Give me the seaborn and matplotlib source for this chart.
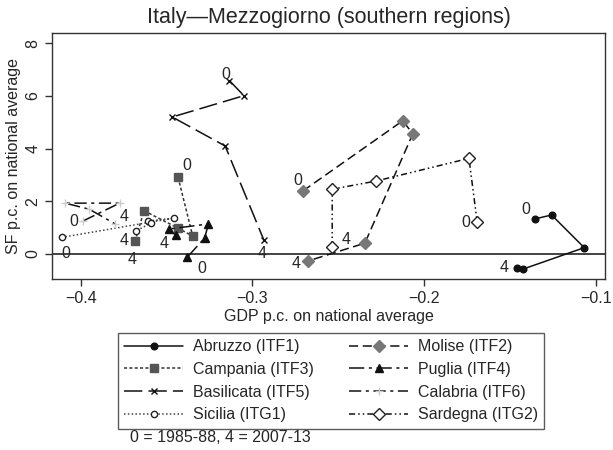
import matplotlib
matplotlib.use("Agg")
import matplotlib.pyplot as plt
import seaborn as sns
import pandas as pd

# GDP p.c. (x) and SF p.c. (y) on national average, periods 0..4
abruzzo_gdp = [-0.1357, -0.1259, -0.1069, -0.1428, -0.1463]
abruzzo_sf = [1.33, 1.48, 0.24, -0.58, -0.54]
molise_gdp = [-0.2707, -0.2125, -0.2067, -0.2346, -0.2679]
molise_sf = [2.39, 5.06, 4.56, 0.41, -0.27]
campania_gdp = [-0.3433, -0.3348, -0.3433, -0.3631, -0.3683]
campania_sf = [2.91, 0.68, 0.98, 1.64, 0.51]
puglia_gdp = [-0.3381, -0.3279, -0.3256, -0.3486, -0.3448]
puglia_sf = [-0.13, 0.60, 1.14, 0.95, 0.72]
basilicata_gdp = [-0.3134, -0.3050, -0.3467, -0.3159, -0.2934]
basilicata_sf = [6.58, 6.01, 5.20, 4.10, 0.53]
calabria_gdp = [-0.3984, -0.3773, -0.4090, -0.3950, -0.3802]
calabria_sf = [1.26, 1.93, 1.93, 1.70, 1.15]
sicilia_gdp = [-0.4111, -0.3458, -0.3606, -0.3592, -0.3679]
sicilia_sf = [0.63, 1.36, 1.25, 1.17, 0.87]
sardegna_gdp = [-0.1692, -0.1740, -0.2280, -0.2536, -0.2536]
sardegna_sf = [1.20, 3.63, 2.77, 2.46, 0.25]

sns.set_style("ticks")
plt.rcParams["font.family"] = ["Liberation Sans", "DejaVu Sans"]

fig = plt.figure(figsize=(6.13, 4.5), dpi=100)
ax = fig.add_axes([0.0848, 0.38, 0.9022, 0.5467])

# name, x, y, line style, line color, marker, marker face, marker edge, size, label offsets
regions = [
    ("Abruzzo (ITF1)", abruzzo_gdp, abruzzo_sf, "-", "#111111", "o", "#111111", "#111111", 4.8, (-9, 9), (-12, 1)),
    ("Campania (ITF3)", campania_gdp, campania_sf, (0, (2, 1.5)), "#333333", "s", "#555555", "#555555", 6.3, (9, 12), (-3, -19)),
    ("Basilicata (ITF5)", basilicata_gdp, basilicata_sf, (0, (12, 4)), "#111111", "x", "#111111", "#111111", 5, (-4, 6), (-2, -13)),
    ("Sicilia (ITG1)", sicilia_gdp, sicilia_sf, (0, (1, 1.5)), "#444444", "o", "white", "#222222", 4.5, (4, -16), (-12, -9)),
    ("Molise (ITF2)", molise_gdp, molise_sf, (0, (6, 3)), "#111111", "D", "#777777", "#777777", 6.3, (-5, 11), (-12, -2)),
    ("Puglia (ITF4)", puglia_gdp, puglia_sf, (0, (10, 3, 2, 3)), "#111111", "^", "#111111", "#111111", 6.3, (15, -11), (-11, -8)),
    ("Calabria (ITF6)", calabria_gdp, calabria_sf, (0, (8, 3, 2, 3)), "#111111", "+", "#cccccc", "#cccccc", 6, (-10, -1), (9, 7)),
    ("Sardegna (ITG2)", sardegna_gdp, sardegna_sf, (0, (4, 2, 1, 2, 1, 2)), "#111111", "D", "white", "#222222", 6.3, (-11, 0), (14, 8)),
]

ax.axhline(0, color="#111111", lw=1.1, zorder=1)

handles = []
for name, xs, ys, ls, lc, mk, mfc, mec, ms, off0, off4 in regions:
    df = pd.DataFrame({"gdp": xs, "sf": ys})
    sns.lineplot(data=df, x="gdp", y="sf", sort=False, estimator=None, ax=ax,
                 color=lc, linestyle=ls, lw=1.1, marker=mk, markersize=ms,
                 markerfacecolor=mfc, markeredgecolor=mec, markeredgewidth=1.0,
                 label=name, legend=False)
    handles.append(ax.lines[-1])
    ax.annotate("0", (xs[0], ys[0]), xytext=off0, textcoords="offset pixels",
                ha="center", va="center", fontsize=11.5)
    ax.annotate("4", (xs[-1], ys[-1]), xytext=off4, textcoords="offset pixels",
                ha="center", va="center", fontsize=11.5)

ax.set_xlim(-0.4167, -0.0948)
ax.set_ylim(-0.95, 8.39)
ax.set_xticks([-0.4, -0.3, -0.2, -0.1])
ax.set_yticks([0, 2, 4, 6, 8])
ax.tick_params(axis="both", labelsize=11.5, length=5, width=1, color="#333333")
ax.tick_params(axis="y", labelrotation=90)
for lab in ax.get_yticklabels():
    lab.set_va("center")
for sp in ax.spines.values():
    sp.set_visible(True)
    sp.set_color("#333333")
    sp.set_linewidth(1)

ax.set_xlabel("GDP p.c. on national average", fontsize=11.5, labelpad=2)
ax.set_ylabel("SF p.c. on national average", fontsize=11.5, labelpad=3)
ax.set_title("Italy\u2014Mezzogiorno (southern regions)", fontsize=15.5, pad=7)

leg = fig.legend(handles=handles, labels=[r[0] for r in regions], ncol=2,
                 loc="upper center", bbox_to_anchor=(0.54, 1 - 333 / 450),
                 borderaxespad=0, fontsize=11.5, frameon=True, fancybox=False,
                 edgecolor="#333333", handlelength=3.7, handletextpad=0.6,
                 columnspacing=2.2, labelspacing=0.48, borderpad=0.4)
leg.get_frame().set_linewidth(1)

fig.text(130 / 613, 1 - 438 / 450, "0 = 1985-88, 4 = 2007-13", fontsize=11.5,
         ha="left", va="center")

fig.savefig("out.png", dpi=100)
